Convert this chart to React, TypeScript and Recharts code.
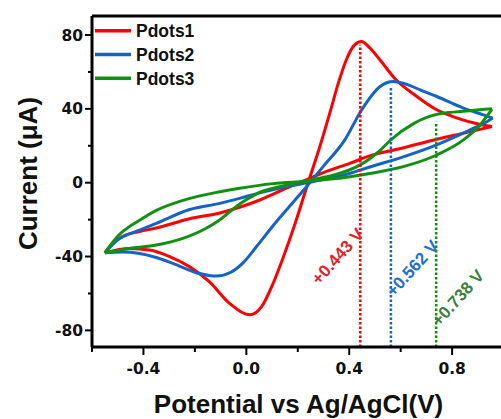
import { LineChart, Line, XAxis, YAxis, ReferenceLine, ReferenceDot, Legend } from 'recharts';

// [potential (V), current (µA)] — each loop split into two branches, both ordered by potential
const pdots1Base = [
  [-0.55, -38], [-0.52, -33], [-0.48, -29], [-0.415, -26.5], [-0.35, -24.5], [-0.22, -19.5],
  [-0.103, -16.4], [-0.026, -13.3], [0.05, -9.5], [0.156, -3], [0.22, 0.8], [0.3, 5.5],
  [0.402, 10.5], [0.48, 14.5], [0.6, 18.5], [0.74, 23.5], [0.85, 27], [0.955, 30.4],
];
const pdots1Peak = [
  [-0.55, -38], [-0.454, -35.6], [-0.376, -36.5], [-0.298, -40.1], [-0.22, -45.6], [-0.143, -53.7],
  [-0.065, -65.4], [0.015, -71.5], [0.06, -67], [0.104, -54.6], [0.15, -38], [0.19, -22],
  [0.24, 0], [0.28, 17], [0.325, 38], [0.36, 55], [0.39, 67], [0.42, 74.5], [0.448, 76.5],
  [0.48, 73], [0.52, 66.5], [0.58, 56], [0.66, 47], [0.74, 39.5], [0.82, 35], [0.91, 31.5], [0.955, 30.4],
];
const pdots2Base = [
  [-0.55, -38], [-0.5, -31], [-0.415, -25.7], [-0.35, -22], [-0.22, -14.5], [-0.103, -11.2],
  [-0.026, -8.5], [0.052, -5.5], [0.15, -2.3], [0.25, 0.3], [0.32, 2.5], [0.4, 5], [0.48, 8.5],
  [0.61, 14], [0.74, 20.5], [0.87, 28.6], [0.935, 33], [0.958, 35],
];
const pdots2Peak = [
  [-0.55, -38], [-0.48, -37.5], [-0.415, -38.3], [-0.35, -40.5], [-0.286, -43.7], [-0.182, -49.2],
  [-0.117, -50.6], [-0.06, -48.5], [-0.01, -43], [0.039, -34.7], [0.1, -24], [0.17, -12.5],
  [0.234, -2.2], [0.3, 9], [0.383, 23.2], [0.448, 39.4], [0.519, 52], [0.571, 54.8], [0.61, 53.9],
  [0.68, 50], [0.74, 46.7], [0.844, 40.4], [0.922, 36.7], [0.958, 35],
];
const pdots3Base = [
  [-0.55, -38], [-0.5, -29], [-0.415, -20.3], [-0.35, -15], [-0.22, -8.5], [-0.103, -4.9],
  [-0.026, -3], [0.104, -0.5], [0.234, 0.8], [0.39, 3], [0.48, 5], [0.61, 8.7], [0.74, 15],
  [0.844, 23.2], [0.909, 31.3], [0.955, 39.8],
];
const pdots3Peak = [
  [-0.55, -38], [-0.454, -35.6], [-0.35, -33.8], [-0.247, -30.2], [-0.156, -24.7], [-0.104, -20.2],
  [-0.026, -11.5], [0.04, -6], [0.15, -1.5], [0.25, 1.5], [0.337, 4], [0.441, 9.5], [0.48, 13],
  [0.52, 17.5], [0.56, 23], [0.65, 32], [0.74, 37], [0.87, 39], [0.955, 40],
];

const seriesNames = ['Pdots1', 'Pdots2', 'Pdots3'];
const seriesColors = ['#ff0000', '#1463c6', '#129012'];
const baseBranches = [pdots1Base, pdots2Base, pdots3Base];
const peakBranches = [pdots1Peak, pdots2Peak, pdots3Peak];

// oxidation peak markers
const peakPotentials = [0.443, 0.562, 0.738];
const peakTops = [74.7, 52, 33];
const peakLabels = ['+0.443 V', '+0.562 V', '+0.738 V'];
const labelColors = ['#e8202a', '#1f6fd2', '#3a803c'];
const labelAt = [[0.356, -40], [0.646, -46.5], [0.823, -62.5]];

const xTicks = [-0.6, -0.4, -0.2, 0, 0.2, 0.4, 0.6, 0.8];
const xMajor = [-0.4, 0, 0.4, 0.8];
const yTicks = [-80, -60, -40, -20, 0, 20, 40, 60, 80];
const yMajor = [-80, -40, 0, 40, 80];

const xDomain = [-0.6, 0.99];
const yDomain = [-89, 90.3];

const toPts = (arr: number[][]) => arr.map(([x, y]) => ({ x, y }));

const tickFont = { fontFamily: 'DejaVu Sans', fontWeight: 'bold', fontSize: 15.5, fill: '#111' };
const titleFont = { fontFamily: 'Liberation Sans', fontWeight: 'bold', fontSize: 26, fill: '#111' };

function XTick({ x, y, payload }: any) {
  const major = xMajor.includes(payload.value);
  return (
    <g>
      <line x1={x} x2={x} y1={y} y2={y + (major ? 8 : 5)} stroke="#000" strokeWidth={2} />
      {major && (
        <text x={x} y={y + 27} textAnchor="middle" {...tickFont}>
          {payload.value.toFixed(1)}
        </text>
      )}
    </g>
  );
}

function YTick({ x, y, payload }: any) {
  const major = yMajor.includes(payload.value);
  return (
    <g>
      <line x1={x} x2={x - (major ? 7 : 4)} y1={y} y2={y} stroke="#000" strokeWidth={2} />
      {major && (
        <text x={x - 9} y={y + 5.6} textAnchor="end" {...tickFont}>
          {payload.value}
        </text>
      )}
    </g>
  );
}

function XTitle({ viewBox }: any) {
  return (
    <text x={viewBox.x + viewBox.width / 2 + 2} y={viewBox.y + 66} textAnchor="middle" {...titleFont}>
      Potential vs Ag/AgCl(V)
    </text>
  );
}

function YTitle({ viewBox }: any) {
  const cx = viewBox.x + 28;
  const cy = viewBox.y + viewBox.height / 2 - 8;
  return (
    <text x={cx} y={cy} transform={`rotate(-90 ${cx} ${cy})`} textAnchor="middle" dominantBaseline="central" {...titleFont}>
      Current (μA)
    </text>
  );
}

const renderLegend = () => (
  <svg width={200} height={95} style={{ display: 'block' }}>
    {seriesNames.map((name, i) => (
      <g key={name}>
        <line x1={95} x2={131} y1={30.7 + i * 23.8} y2={30.7 + i * 23.8} stroke={seriesColors[i]} strokeWidth={3.5} />
        <text x={136} y={30.7 + i * 23.8 + 6.3} fontFamily="Liberation Sans" fontWeight="bold" fontSize={17.5} fill="#111">
          {name}
        </text>
      </g>
    ))}
  </svg>
);

const peakTag = (i: number) => (p: any) => (
  <text
    x={p.cx}
    y={p.cy}
    transform={`rotate(-48 ${p.cx} ${p.cy})`}
    textAnchor="middle"
    dominantBaseline="central"
    fill={labelColors[i]}
    fontFamily="Liberation Sans"
    fontWeight="bold"
    fontSize={17}
  >
    {peakLabels[i]}
  </text>
);

export default function App() {
  return (
    <div style={{ position: 'absolute', left: 0, top: 0, background: '#fff' }}>
      <LineChart width={501} height={419} margin={{ top: 16, right: 0, bottom: 0, left: 0 }}>
        <XAxis
          dataKey="x"
          type="number"
          domain={xDomain}
          allowDataOverflow
          ticks={xTicks}
          interval={0}
          height={72}
          tickSize={0}
          tickMargin={0}
          tickLine={false}
          tick={<XTick />}
          axisLine={{ stroke: '#000', strokeWidth: 3 }}
          label={<XTitle />}
        />
        <YAxis
          type="number"
          domain={yDomain}
          allowDataOverflow
          ticks={yTicks}
          interval={0}
          width={92}
          tickSize={0}
          tickMargin={0}
          tickLine={false}
          tick={<YTick />}
          axisLine={{ stroke: '#000', strokeWidth: 3 }}
          label={<YTitle />}
        />
        <ReferenceLine y={yDomain[1]} stroke="#000" strokeWidth={3} />
        <Legend
          content={renderLegend}
          layout="vertical"
          align="center"
          verticalAlign="middle"
          wrapperStyle={{ left: 0, top: 0, width: 200, height: 95 }}
        />
        {seriesNames.map((name, i) => [
          <Line
            key={name + '-base'}
            data={toPts(baseBranches[i])}
            dataKey="y"
            name={name}
            type="monotone"
            stroke={seriesColors[i]}
            strokeWidth={3}
            dot={false}
            activeDot={false}
            isAnimationActive={false}
          />,
          <Line
            key={name + '-peak'}
            data={toPts(peakBranches[i])}
            dataKey="y"
            name={name + ' peak'}
            legendType="none"
            type="monotone"
            stroke={seriesColors[i]}
            strokeWidth={3}
            dot={false}
            activeDot={false}
            isAnimationActive={false}
          />,
        ])}
        {peakPotentials.map((v, i) => (
          <ReferenceLine
            key={'pl' + i}
            segment={[{ x: v, y: yDomain[0] }, { x: v, y: peakTops[i] }]}
            stroke={seriesColors[i]}
            strokeWidth={2.5}
            strokeDasharray="2.5 2"
          />
        ))}
        {peakPotentials.map((v, i) => (
          <ReferenceDot key={'pt' + i} x={labelAt[i][0]} y={labelAt[i][1]} r={0} shape={peakTag(i)} />
        ))}
      </LineChart>
    </div>
  );
}
